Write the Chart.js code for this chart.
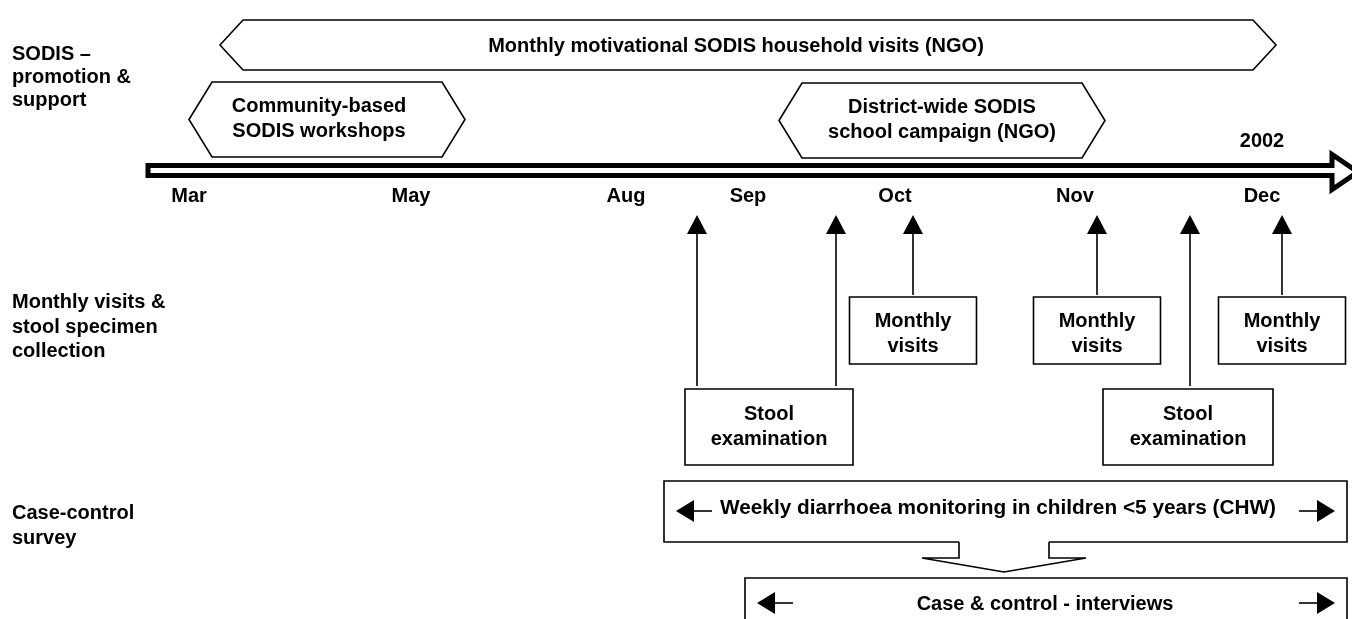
<!DOCTYPE html>
<html>
<head>
<meta charset="utf-8">
<script src="https://cdn.jsdelivr.net/npm/chart.js@4.4.0/dist/chart.umd.min.js"></script>
<style>
  html, body { margin: 0; padding: 0; background: #fff; }
  #wrap { width: 1352px; height: 619px; }
</style>
</head>
<body>
<div id="wrap"><canvas id="diagram"></canvas></div>
<script>
// Timeline (diagram units; the original axis is not drawn to scale)
const monthLabels = ['Mar', 'May', 'Aug', 'Sep', 'Oct', 'Nov', 'Dec'];
const monthAt = [189, 411, 626, 748, 895, 1075, 1262];
const yearLabel = '2002';
const timelineFrom = 148;
const timelineTo = 1332;

// Row headings
const rowLabels = [
    ['SODIS \u2013', 'promotion &', 'support'],
    ['Monthly visits &', 'stool specimen', 'collection'],
    ['Case-control', 'survey']
];
const rowAt = [60, 308, 519];

// SODIS promotion phases (double-headed)
const phaseText = [
    ['Monthly motivational SODIS household visits (NGO)'],
    ['Community-based', 'SODIS workshops'],
    ['District-wide SODIS', 'school campaign (NGO)']
];
const phaseFrom = [220, 189, 779];
const phaseTo = [1276, 465, 1105];
const phaseTop = [20, 82, 83];
const phaseBottom = [70, 157, 158];

// Monthly visits (arrow to timeline + box)
const visitAt = [913, 1097, 1282];
// Stool examinations (two arrows per box)
const stoolArrows = [[697, 836], [1190]];
const stoolBoxFrom = [685, 1103];
const stoolBoxTo = [853, 1273];

// Case-control survey
const surveyText = ['Weekly diarrhoea monitoring in children <5 years (CHW)', 'Case & control - interviews'];
const surveyFrom = [664, 745];
const surveyTo = [1347, 1347];

const FONT = 'bold 20px "Liberation Sans", Arial, sans-serif';
const ARROW_TIP = 215, ARROW_BASE = 234;

// Arrow shafts as line datasets
function shaft(x, bottom) {
    return [{ x: x, y: bottom }, { x: x, y: ARROW_BASE }, { x: x, y: null }];
}
const visitShafts = visitAt.flatMap(x => shaft(x, 295));
const stoolShafts = stoolArrows.flat().flatMap(x => shaft(x, 386));

const diagramPlugin = {
    id: 'diagram',
    afterDatasetsDraw(chart) {
        const ctx = chart.ctx;
        const X = v => chart.scales.x.getPixelForValue(v);
        const Y = v => chart.scales.y.getPixelForValue(v);

        function poly(pts, opt) {
            ctx.beginPath();
            pts.forEach((p, i) => i ? ctx.lineTo(X(p[0]), Y(p[1])) : ctx.moveTo(X(p[0]), Y(p[1])));
            if (opt.close) ctx.closePath();
            if (opt.fill) { ctx.fillStyle = opt.fill; ctx.fill(); }
            if (opt.stroke) {
                ctx.strokeStyle = opt.stroke;
                ctx.lineWidth = opt.lw || 1.5;
                ctx.lineJoin = 'miter';
                ctx.stroke();
            }
        }
        function text(lines, cx, baseline, align, step, font) {
            ctx.font = font || FONT;
            ctx.fillStyle = '#000';
            ctx.textAlign = align || 'center';
            ctx.textBaseline = 'alphabetic';
            lines.forEach((t, i) => ctx.fillText(t, X(cx), Y(baseline + i * (step || 25))));
        }
        function box(x0, x1, y0, y1) {
            poly([[x0, y0], [x1, y0], [x1, y1], [x0, y1]], { close: true, fill: '#fff', stroke: '#000', lw: 1.6 });
        }
        function headUp(x) {
            poly([[x, ARROW_TIP], [x + 10, ARROW_BASE], [x - 10, ARROW_BASE]], { close: true, fill: '#000' });
        }
        function sideArrow(tip, dir, y) {
            const base = tip - dir * 18;
            poly([[tip, y], [base, y - 11], [base, y + 11]], { close: true, fill: '#000' });
            poly([[base, y], [base - dir * 18, y]], { stroke: '#000', lw: 1.6 });
        }

        ctx.save();

        // Row headings
        rowLabels.forEach((lines, i) => text(lines, 12, rowAt[i], 'left', i === 0 ? 23 : 24.5));

        // Phases
        phaseText.forEach((lines, i) => {
            const a = phaseFrom[i], b = phaseTo[i], t = phaseTop[i], btm = phaseBottom[i];
            const m = (t + btm) / 2, d = 23;
            poly([[a, m], [a + d, t], [b - d, t], [b, m], [b - d, btm], [a + d, btm]],
                 { close: true, fill: '#fff', stroke: '#000', lw: 1.6 });
            const cx = i === 1 ? 319 : (i === 0 ? 736 : (a + b) / 2);
            const first = lines.length === 1 ? m + 7 : m - 8;
            text(lines, cx, first, 'center', 25);
        });

        // Timeline block arrow
        poly([[timelineFrom, 165.5], [timelineTo, 165.5], [timelineTo, 154.5], [1358, 172],
              [timelineTo, 189.5], [timelineTo, 175.5], [timelineFrom, 175.5]],
             { close: true, fill: '#fff', stroke: '#000', lw: 5 });
        monthLabels.forEach((m, i) => text([m], monthAt[i], 202));
        text([yearLabel], monthAt[monthAt.length - 1], 147);

        // Arrow heads
        visitAt.forEach(headUp);
        stoolArrows.flat().forEach(headUp);

        // Monthly visit boxes
        visitAt.forEach(x => {
            box(x - 63.5, x + 63.5, 297, 364);
            text(['Monthly', 'visits'], x, 327, 'center', 25);
        });

        // Stool examination boxes
        stoolBoxFrom.forEach((a, i) => {
            const b = stoolBoxTo[i];
            box(a, b, 389, 465);
            text(['Stool', 'examination'], (a + b) / 2, 420, 'center', 25);
        });

        // Weekly monitoring box
        box(surveyFrom[0], surveyTo[0], 481, 542);
        text([surveyText[0]], 998, 514, 'center', 25, 'bold 20.8px "Liberation Sans", Arial, sans-serif');
        sideArrow(676, -1, 511);
        sideArrow(1335, 1, 511);

        // Case & control box (runs off the bottom)
        box(surveyFrom[1], surveyTo[1], 578, 660);
        text([surveyText[1]], 1045, 610);
        sideArrow(757, -1, 603);
        sideArrow(1335, 1, 603);

        // Connector from monitoring to interviews
        poly([[959, 541], [959, 558], [922, 558], [1004, 572], [1086, 558], [1049, 558], [1049, 541]],
             { close: true, fill: '#fff' });
        poly([[959, 542], [959, 558], [922, 558], [1004, 572], [1086, 558], [1049, 558], [1049, 542]],
             { stroke: '#000', lw: 1.6 });

        ctx.restore();
    }
};

new Chart(document.getElementById('diagram'), {
    type: 'line',
    data: {
        datasets: [
            { label: 'Monthly visits', data: visitShafts, borderColor: '#000', borderWidth: 1.6, pointRadius: 0, spanGaps: false },
            { label: 'Stool examination', data: stoolShafts, borderColor: '#000', borderWidth: 1.6, pointRadius: 0, spanGaps: false }
        ]
    },
    options: {
        responsive: true,
        maintainAspectRatio: false,
        animation: false,
        layout: { padding: 0 },
        scales: {
            x: { type: 'linear', min: 0, max: 1352, display: false },
            y: { type: 'linear', min: 0, max: 619, reverse: true, display: false }
        },
        plugins: { legend: { display: false }, tooltip: { enabled: false } },
        events: []
    },
    plugins: [diagramPlugin]
});
</script>
</body>
</html>
